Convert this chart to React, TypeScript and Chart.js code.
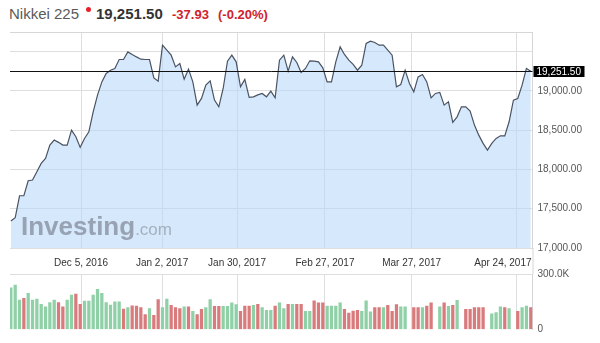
import React, { useEffect, useRef } from 'react';
import { Chart, registerables } from 'chart.js';

Chart.register(...registerables);

// ---------- data ----------
const PRICES: number[] = [
  17343, 17385, 17665, 17665, 17856, 17865, 17971, 18077, 18141, 18310,
  18374, 18345, 18310, 18310, 18501, 18416, 18281, 18395, 18479, 18734,
  18946, 19115, 19222, 19264, 19285, 19400, 19400, 19497, 19464, 19433,
  19404, 19400, 19400, 19166, 19124, 19582, 19519, 19455, 19306, 19349,
  19150, 19277, 19115, 18819, 18904, 19073, 19128, 18883, 18797, 19031,
  19379, 19455, 19370, 19052, 19146, 18917, 18925, 18950, 18968, 18925,
  18997, 18912, 19391, 19455, 19251, 19433, 19362, 19235, 19286, 19383,
  19379, 19370, 19293, 19115, 19115, 19370, 19561, 19464, 19391, 19337,
  19264, 19328, 19604, 19633, 19616, 19582, 19582, 19519, 19455, 19052,
  19082, 19264, 19095, 18988, 19179, 19209, 19115, 18912, 18968, 18981,
  18819, 18861, 18599, 18670, 18797, 18797, 18743, 18565, 18437, 18332,
  18247, 18332, 18395, 18428, 18428, 18607, 18883, 18904, 19073, 19286,
  19251.5,
];

// volume in thousands (null = no bar)
const VOLUMES: (number | null)[] = [
  225, 240, 159, 168, 195, 159, 165, 136, 123, 146,
  159, 146, 123, 159, 186, 191, 136, 154, 154, 186,
  217, 195, 146, 132, 150, 150, 110, 119, 128, 127,
  118, 80, 113, 76, 162, 118, 164, 131, 118, 113,
  122, 122, 98, 80, 109, 118, 162, 125, 125, 125,
  125, 144, 135, 98, 127, 127, 131, 136, 118, 104,
  104, 127, 144, 113, 136, 136, 136, 136, 98, 98,
  155, 144, 144, 127, 127, 127, 144, 109, 89, 100,
  104, 98, 155, 95, 118, 118, 118, 131, 98, 135,
  122, 122, null, 118, 118, 118, 127, 144, null, 122,
  144, 125, 131, 158, null, 109, 109, 118, 118, 118,
  null, 85, 91, 122, 118, 113, null, 98, 118, 127,
  118,
];

// 1 = up day (green), 0 = down day (red)
const VOL_UP: number[] = [
  1, 1, 1, 0, 1, 1, 1, 1, 1, 1,
  1, 0, 0, 1, 1, 0, 0, 1, 1, 1,
  1, 1, 1, 1, 1, 1, 0, 1, 0, 0,
  0, 0, 1, 0, 0, 1, 1, 0, 0, 0,
  1, 0, 1, 0, 0, 1, 1, 0, 0, 1,
  1, 1, 1, 0, 0, 0, 1, 0, 1, 1,
  1, 0, 1, 1, 0, 1, 0, 0, 1, 1,
  0, 0, 0, 1, 1, 1, 1, 0, 0, 0,
  0, 1, 1, 1, 0, 0, 1, 0, 0, 0,
  1, 1, 0, 0, 0, 1, 0, 0, 0, 1,
  0, 1, 0, 1, 0, 0, 0, 0, 0, 0,
  0, 1, 1, 1, 0, 1, 0, 0, 1, 1,
  0,
];

const TICK_POS: number[] = [16.2, 34.9, 52.2, 72.5, 92.5, 116.8];
const TICK_LABELS: string[] = ['Dec 5, 2016', 'Jan 2, 2017', 'Jan 30, 2017', 'Feb 27, 2017', 'Mar 27, 2017', 'Apr 24, 2017'];
const PRICE_TICKS: number[] = [17000, 17500, 18000, 18500, 19000, 19500];
const VOLUME_TICKS: number[] = [0, 300];
const LAST_PRICE = 19251.5;
const CHANGE = '-37.93';
const CHANGE_PCT = '(-0.20%)';
const TITLE = 'Nikkei 225';

const FONT = '"Liberation Sans", Arial, sans-serif';
const GRID = '#dedede';
const BORDER = '#d6d6d6';
const UP_COLOR = '#8fd0a7';
const DOWN_COLOR = '#d97a7c';

const fmt = (v: number) =>
  v.toLocaleString('en-US', { minimumFractionDigits: 2, maximumFractionDigits: 2 });

function xAxis(position: string) {
  return {
    type: 'linear',
    position,
    offset: false,
    min: -0.2,
    max: 120.4,
    afterBuildTicks: (s: any) => {
      s.ticks = TICK_POS.map((v) => ({ value: v }));
    },
    afterFit: (s: any) => {
      s.height = 0;
    },
    ticks: { display: false },
    grid: { color: GRID, drawTicks: false, lineWidth: 1, offset: false },
    border: { display: false },
  };
}

export default function App() {
  const priceRef = useRef<HTMLCanvasElement>(null);
  const volRef = useRef<HTMLCanvasElement>(null);

  useEffect(() => {
    const priceOverlay = {
      id: 'priceOverlay',
      afterDatasetsDraw(chart: any) {
        const { ctx, chartArea, scales } = chart;
        ctx.save();
        // watermark
        ctx.textBaseline = 'alphabetic';
        ctx.fillStyle = 'rgba(140,151,167,0.85)';
        ctx.font = `bold 26px ${FONT}`;
        ctx.fillText('Investing', 21, 235);
        const w = ctx.measureText('Investing').width;
        ctx.fillStyle = 'rgba(150,162,178,0.8)';
        ctx.font = `17px ${FONT}`;
        ctx.fillText('.com', 21 + w, 235);

        const y = Math.round(scales.y.getPixelForValue(LAST_PRICE)) + 0.5;
        // top border
        ctx.strokeStyle = BORDER;
        ctx.lineWidth = 1;
        ctx.beginPath();
        ctx.moveTo(chartArea.left, chartArea.top + 0.5);
        ctx.lineTo(chartArea.right, chartArea.top + 0.5);
        ctx.stroke();
        // last price line
        ctx.strokeStyle = '#111';
        ctx.beginPath();
        ctx.moveTo(chartArea.left, y);
        ctx.lineTo(chartArea.right, y);
        ctx.stroke();
        // last price box
        ctx.fillStyle = '#000';
        ctx.fillRect(chartArea.right + 1, y - 5.5, 51, 11);
        ctx.fillStyle = '#fff';
        ctx.font = `10px ${FONT}`;
        ctx.textBaseline = 'middle';
        ctx.fillText(fmt(LAST_PRICE), chartArea.right + 4, y + 0.5);
        ctx.restore();
      },
    };

    const price = new Chart(priceRef.current as HTMLCanvasElement, {
      type: 'line',
      data: {
        datasets: [
          {
            data: PRICES.map((v, i) => ({ x: i, y: v })),
            borderColor: '#4a5363',
            borderWidth: 1.2,
            pointRadius: 0,
            tension: 0,
            fill: 'start',
            backgroundColor: 'rgba(185,215,248,0.58)',
          },
        ],
      },
      options: {
        responsive: false,
        animation: false,
        events: [],
        layout: { padding: { top: 32, bottom: 95, left: 10, right: 0 } },
        plugins: { legend: { display: false }, tooltip: { enabled: false } },
        scales: {
          x: xAxis('bottom') as any,
          y: {
            position: 'right',
            min: 17000,
            max: 19750,
            afterBuildTicks: (s: any) => {
              s.ticks = PRICE_TICKS.map((v) => ({ value: v }));
            },
            afterFit: (s: any) => {
              s.width = 67.5;
            },
            ticks: {
              padding: 5,
              color: '#555',
              font: { family: FONT, size: 10 },
              callback: (v: any) => (v >= 19500 ? '' : fmt(Number(v))),
            },
            grid: { color: GRID, drawTicks: false },
            border: { display: true, color: BORDER },
          },
        },
      } as any,
      plugins: [priceOverlay],
    });

    const volOverlay = {
      id: 'volOverlay',
      afterDraw(chart: any) {
        const { ctx, chartArea, scales } = chart;
        ctx.save();
        ctx.strokeStyle = BORDER;
        ctx.lineWidth = 1;
        ctx.beginPath();
        ctx.moveTo(chartArea.right + 0.5, 248);
        ctx.lineTo(chartArea.right + 0.5, chartArea.top);
        ctx.stroke();
        ctx.font = `10px ${FONT}`;
        ctx.fillStyle = '#333';
        ctx.textBaseline = 'middle';
        ctx.textAlign = 'center';
        TICK_POS.forEach((p, i) => {
          const label = TICK_LABELS[i];
          const w = ctx.measureText(label).width;
          let cx = scales.x.getPixelForValue(p);
          cx = Math.min(cx, chartArea.right - 1 - w / 2);
          cx = Math.max(cx, chartArea.left + w / 2);
          ctx.fillText(label, cx, 263);
        });
        ctx.restore();
      },
    };

    const vol = new Chart(volRef.current as HTMLCanvasElement, {
      type: 'bar',
      data: {
        datasets: [
          {
            data: VOLUMES.map((v, i) => ({ x: i, y: v })),
            backgroundColor: VOL_UP.map((u) => (u ? UP_COLOR : DOWN_COLOR)),
            barThickness: 2.6,
          },
        ],
      },
      options: {
        responsive: false,
        animation: false,
        events: [],
        layout: { padding: { top: 274, bottom: 13.5, left: 10, right: 0 } },
        plugins: { legend: { display: false }, tooltip: { enabled: false } },
        scales: {
          x: xAxis('top') as any,
          y: {
            position: 'right',
            min: 0,
            max: 300,
            afterBuildTicks: (s: any) => {
              s.ticks = VOLUME_TICKS.map((v) => ({ value: v }));
            },
            afterFit: (s: any) => {
              s.width = 67.5;
            },
            ticks: {
              padding: 5,
              color: '#555',
              font: { family: FONT, size: 10 },
              callback: (v: any) => (Number(v) === 0 ? '0' : `${Number(v).toFixed(1)}K`),
            },
            grid: {
              drawTicks: false,
              color: (c: any) => (c.tick && c.tick.value > 0 ? GRID : 'rgba(0,0,0,0)'),
            },
            border: { display: true, color: BORDER },
          },
        },
      } as any,
      plugins: [volOverlay],
    });

    return () => {
      price.destroy();
      vol.destroy();
    };
  }, []);

  const base: React.CSSProperties = {
    position: 'absolute',
    top: 4,
    fontFamily: FONT,
    whiteSpace: 'nowrap',
    lineHeight: '20px',
  };

  return (
    <div style={{ position: 'fixed', left: 0, top: 0, width: 600, height: 343, background: '#fff', overflow: 'hidden' }}>
      <span style={{ ...base, left: 9, fontSize: 15, color: '#5a5a5a' }}>{TITLE}</span>
      <span
        style={{ position: 'absolute', left: 86, top: 7, width: 5, height: 5, borderRadius: 3, background: '#e8202a' }}
      />
      <span style={{ ...base, left: 96, fontSize: 15, fontWeight: 'bold', color: '#333' }}>{fmt(LAST_PRICE)}</span>
      <span style={{ ...base, left: 172, fontSize: 13, fontWeight: 'bold', color: '#d0222c', top: 5 }}>{CHANGE}</span>
      <span style={{ ...base, left: 218, fontSize: 13, fontWeight: 'bold', color: '#d0222c', top: 5 }}>{CHANGE_PCT}</span>
      <canvas ref={priceRef} width={600} height={343} style={{ position: 'absolute', left: 0, top: 0, display: 'block' }} />
      <canvas ref={volRef} width={600} height={343} style={{ position: 'absolute', left: 0, top: 0, display: 'block' }} />
    </div>
  );
}
